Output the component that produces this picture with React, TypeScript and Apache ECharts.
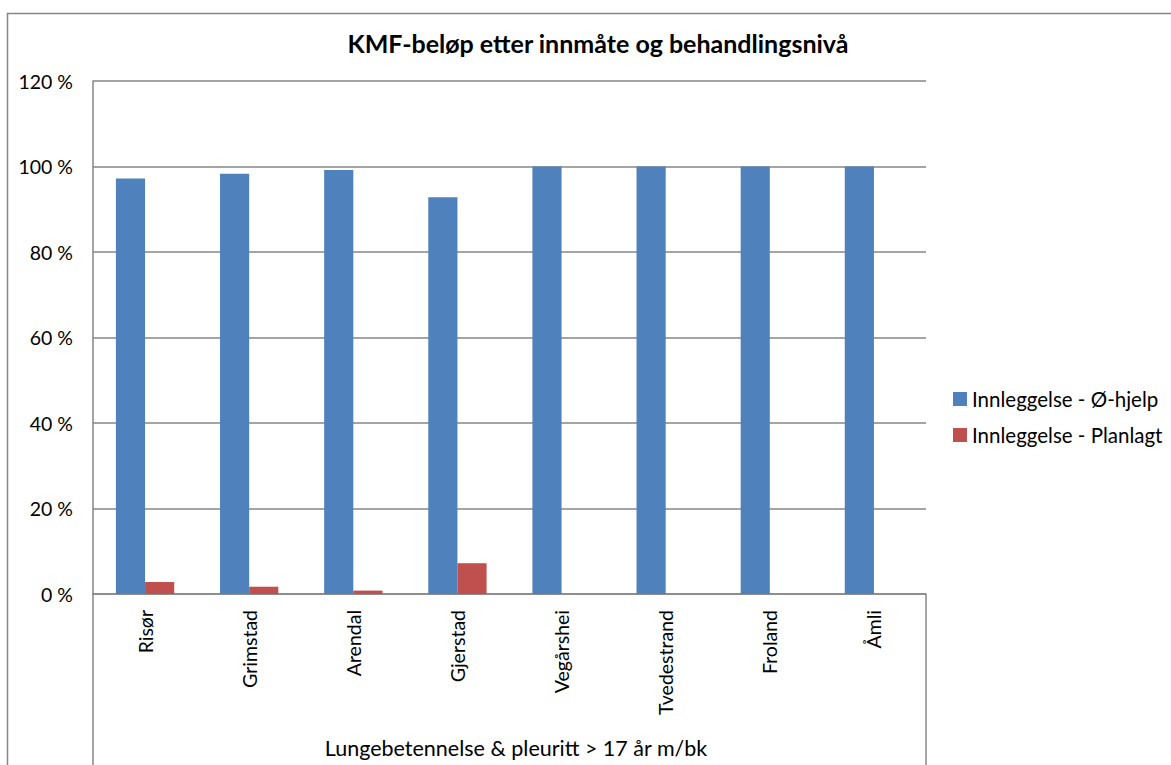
import React, { useEffect, useRef } from "react";
import * as echarts from "echarts";

const categories = ["Risør", "Grimstad", "Arendal", "Gjerstad", "Vegårshei", "Tvedestrand", "Froland", "Åmli"];
const emergencyValues = [97.2, 98.3, 99.2, 92.8, 100, 100, 100, 100];
const plannedValues = [2.8, 1.7, 0.8, 7.2, 0, 0, 0, 0];
const seriesNames = ["Innleggelse - Ø-hjelp", "Innleggelse - Planlagt"];
const groupLabel = "Lungebetennelse & pleuritt > 17 år m/bk";
const title = "KMF-beløp etter innmåte og behandlingsnivå";

const FONT = "Lato, 'Open Sans', sans-serif";
const GRAY = "#868686";

export default function App() {
  const ref = useRef<HTMLDivElement>(null);
  useEffect(() => {
    if (!ref.current) return;
    const chart = echarts.init(ref.current, null, { renderer: "svg" });
    const gridLeft = 93, gridRight = 926, gridTop = 81, gridBottom = 594, H = 765;
    chart.setOption({
      animation: false,
      backgroundColor: "#ffffff",
      textStyle: { fontFamily: FONT },
      title: {
        text: title,
        left: 593,
        top: 25,
        textAlign: "center",
        textStyle: { fontFamily: FONT, fontWeight: "bold", fontSize: 25, color: "#000" },
      },
      legend: {
        orient: "vertical",
        left: 948,
        top: 382,
        itemWidth: 14,
        itemHeight: 14,
        itemGap: 12,
        icon: "rect",
        textStyle: { fontFamily: FONT, fontSize: 20.5, color: "#000", lineHeight: 24 },
        data: seriesNames,
      },
      grid: {
        left: gridLeft,
        right: 1171 - gridRight,
        top: gridTop,
        bottom: H - gridBottom,
        containLabel: false,
      },
      xAxis: {
        type: "category",
        data: categories,
        axisLine: { show: true, lineStyle: { color: GRAY, width: 1.5 } },
        axisTick: { show: false },
        axisLabel: {
          rotate: 90,
          margin: 16,
          interval: 0,
          fontFamily: FONT,
          fontSize: 19.5,
          color: "#000",
        },
      },
      yAxis: {
        type: "value",
        min: 0,
        max: 120,
        interval: 20,
        axisLine: { show: true, lineStyle: { color: GRAY, width: 1.5 } },
        axisTick: { show: false },
        splitLine: { show: true, lineStyle: { color: GRAY, width: 1.5 } },
        axisLabel: {
          formatter: "{value} %",
          margin: 20,
          fontFamily: FONT,
          fontSize: 19.5,
          color: "#000",
        },
      },
      series: [
        {
          name: seriesNames[0],
          type: "bar",
          data: emergencyValues,
          barWidth: "28%",
          barGap: "0%",
          itemStyle: { color: "#4F81BD" },
        },
        {
          name: seriesNames[1],
          type: "bar",
          data: plannedValues,
          barWidth: "28%",
          barGap: "0%",
          itemStyle: { color: "#C0504D" },
        },
      ],
      graphic: [
        {
          type: "rect",
          shape: { x: 7.5, y: 13.5, width: 1300, height: 900 },
          style: { fill: "none", stroke: GRAY, lineWidth: 1.5 },
          silent: true,
        },
        {
          type: "line",
          shape: { x1: gridLeft, y1: gridBottom, x2: gridLeft, y2: H },
          style: { stroke: GRAY, lineWidth: 1.5 },
        },
        {
          type: "line",
          shape: { x1: gridRight, y1: gridBottom, x2: gridRight, y2: H },
          style: { stroke: GRAY, lineWidth: 1.5 },
        },
        {
          type: "text",
          x: 516,
          y: 748,
          style: {
            text: groupLabel,
            fontFamily: FONT,
            fontSize: 21.5,
            fill: "#000",
            textAlign: "center",
            textVerticalAlign: "middle",
          },
        },
      ],
    });
    return () => chart.dispose();
  }, []);
  return (
    <div
      ref={ref}
      style={{ position: "fixed", left: 0, top: 0, width: 1171, height: 765, background: "#fff" }}
    />
  );
}
